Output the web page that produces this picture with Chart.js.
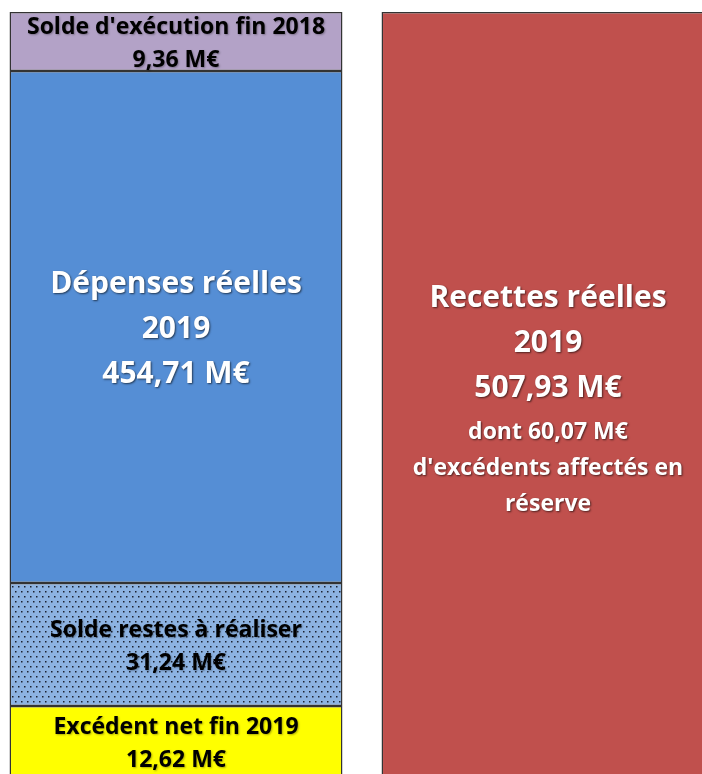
<!DOCTYPE html>
<html lang="fr">
<head>
<meta charset="utf-8">
<title>Équilibre 2019</title>
<script src="https://cdn.jsdelivr.net/npm/chart.js@4"></script>
<style>
  html, body { margin: 0; padding: 0; background: #fff; overflow: hidden; width: 702px; height: 774px; }
  #wrap { position: absolute; left: -10px; top: 0; width: 744px; height: 778px; }
</style>
</head>
<body>
<div id="wrap"><canvas id="equilibreChart" width="744" height="778"></canvas></div>
<script>
// colonnes
var colonnes = ['Dépenses', 'Recettes'];

// montants affichés (M€)
var montants = {
    excedent: 12.62,
    restes: 31.24,
    depenses: 454.71,
    soldeExec: 9.36,
    recettes: 507.93,
    reserve: 60.07
};

// hauteurs des blocs telles que dessinées dans le schéma (échelle non proportionnelle)
var hauteurExcedent = [47.7, null];
var hauteurRestes = [81.6, null];
var hauteurDepenses = [339.5, null];
var hauteurSoldeExec = [39.1, null];
var hauteurRecettes = [null, 507.9];

function fmt(v) {
    return v.toFixed(2).replace('.', ',') + ' M€';
}

// motif pointillé pour les restes à réaliser
function makeDots() {
    var c = document.createElement('canvas');
    c.width = 6; c.height = 10;
    var g = c.getContext('2d');
    g.fillStyle = '#8db3e2';
    g.fillRect(0, 0, 6, 10);
    g.fillStyle = '#1c2230';
    g.fillRect(1, 1, 1.5, 1.5);
    g.fillRect(4, 6, 1.5, 1.5);
    return g.createPattern(c, 'repeat');
}

var ctx = document.getElementById('equilibreChart').getContext('2d');
var dots = makeDots();

var petit = 23, grand = 30;
var textes = [
    { ds: 0, idx: 0, color: '#000', lines: [['Excédent net fin 2019', petit], [fmt(montants.excedent), petit]], gap: [33] },
    { ds: 1, idx: 0, color: '#000', lines: [['Solde restes à réaliser', petit], [fmt(montants.restes), petit]], gap: [33] },
    { ds: 2, idx: 0, color: '#fff', lines: [['Dépenses réelles', grand], ['2019', grand], [fmt(montants.depenses), grand]], gap: [45, 45] },
    { ds: 3, idx: 0, color: '#000', lines: [["Solde d'exécution fin 2018", petit], [fmt(montants.soldeExec), petit]], gap: [33] },
    { ds: 4, idx: 1, color: '#fff', lines: [['Recettes réelles', grand], ['2019', grand], [fmt(montants.recettes), grand],
        ['dont ' + fmt(montants.reserve), petit], ["d'excédents affectés en", petit], ['réserve', petit]], gap: [45, 45, 44, 36, 36], shift: 4 }
];

var labelPlugin = {
    id: 'blocLabels',
    afterDatasetsDraw: function (chart) {
        var c = chart.ctx;
        textes.forEach(function (t) {
            var bar = chart.getDatasetMeta(t.ds).data[t.idx];
            var total = t.gap.reduce(function (a, b) { return a + b; }, 0);
            var cy = (bar.y + bar.base) / 2 + (t.shift || 0) + 2;
            var y = cy - total / 2;
            c.save();
            c.textAlign = 'center';
            c.textBaseline = 'middle';
            c.fillStyle = t.color;
            c.shadowColor = t.color === '#fff' ? 'rgba(0,0,0,0.6)' : 'rgba(0,0,0,0.3)';
            c.shadowBlur = 2;
            c.shadowOffsetX = 1;
            c.shadowOffsetY = 1;
            t.lines.forEach(function (l, i) {
                c.font = 'bold ' + l[1] + 'px "Open Sans", Lato, sans-serif';
                c.fillText(l[0], bar.x, y);
                if (i < t.gap.length) y += t.gap[i];
            });
            c.restore();
        });
    }
};

var commun = { borderColor: '#333', borderWidth: 1.5, borderSkipped: false };

new Chart(ctx, {
    type: 'bar',
    data: {
        labels: colonnes,
        datasets: [
            Object.assign({ label: 'Excédent net fin 2019', data: hauteurExcedent, backgroundColor: '#ffff00' }, commun),
            Object.assign({ label: 'Solde restes à réaliser', data: hauteurRestes, backgroundColor: dots }, commun),
            Object.assign({ label: 'Dépenses réelles 2019', data: hauteurDepenses, backgroundColor: '#558ed5' }, commun),
            Object.assign({ label: "Solde d'exécution fin 2018", data: hauteurSoldeExec, backgroundColor: '#b3a2c7' }, commun),
            Object.assign({ label: 'Recettes réelles 2019', data: hauteurRecettes, backgroundColor: '#c0504d' }, commun)
        ]
    },
    options: {
        responsive: false,
        animation: false,
        layout: { padding: { top: 12, left: 0, right: 0, bottom: 0 } },
        datasets: { bar: { categoryPercentage: 1, barPercentage: 0.895 } },
        scales: {
            x: { stacked: true, display: false },
            y: { stacked: true, display: false, min: 0, max: 507.9 }
        },
        plugins: {
            legend: { display: false },
            tooltip: { enabled: false }
        }
    },
    plugins: [labelPlugin]
});
</script>
</body>
</html>
